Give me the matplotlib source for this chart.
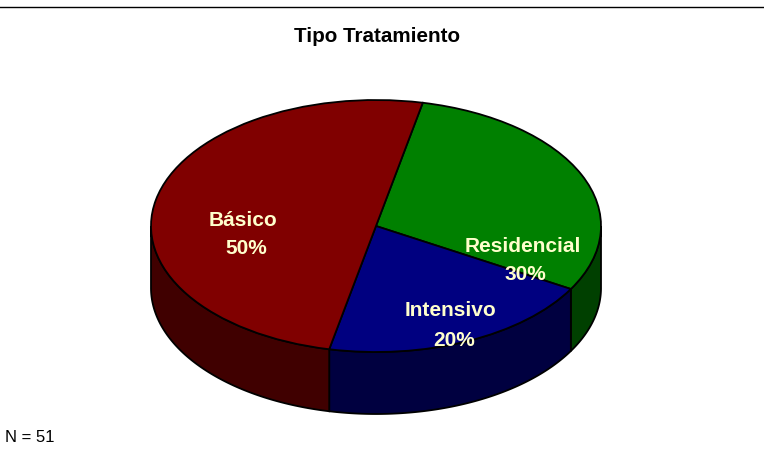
import numpy as np
import matplotlib
matplotlib.use("Agg")
import matplotlib.pyplot as plt
from matplotlib.patches import Polygon

plt.rcParams['font.family'] = ['Liberation Sans', 'DejaVu Sans']

categories = ["Residencial", "Intensivo", "Básico"]
shares = [30, 20, 50]
N = 51
title = "Tipo Tratamiento"

# colours for top faces and the darker side walls
topColors = ["#008000", "#000080", "#800000"]
sideColors = ["#004000", "#000040", "#400000"]
textColor = "#FFFFCC"

# pie geometry, in pixels of the 764x449 picture
W, H = 764, 449
cx, cy, rx, ry = 376, 226, 225, 126
depth = 62
startAngle = 78.0


def px(x, y):
    # picture pixels -> data units of the unit pie
    return (x - cx) / rx, (cy - y) / ry


def DrawSides(ax, angles):
    d = depth / ry
    for i in range(len(shares)):
        # angles run clockwise, only the front half (180-360) shows a wall
        hi = angles[i] % 360
        lo = hi - (angles[i] - angles[i + 1])
        t = np.linspace(lo, hi, 200)
        t = t[np.sin(np.radians(t)) <= 1e-9]
        if len(t) == 0:
            continue
        x = np.cos(np.radians(t))
        y = np.sin(np.radians(t))
        verts = np.vstack([np.column_stack([x, y]),
                           np.column_stack([x[::-1], y[::-1] - d])])
        ax.add_patch(Polygon(verts, closed=True, facecolor=sideColors[i],
                             edgecolor="k", lw=1.3, zorder=1))


def run():
    fig = plt.figure(figsize=(W / 100, H / 100), dpi=100)
    ax = fig.add_axes([0, 0, 1, 1])
    fracs = np.array(shares) / np.sum(shares)
    angles = startAngle - 360 * np.concatenate([[0], np.cumsum(fracs)])
    DrawSides(ax, angles)
    wedges, _ = ax.pie(shares, colors=topColors, startangle=startAngle,
                       counterclock=False, radius=1,
                       wedgeprops=dict(edgecolor="k", lw=1.3, zorder=2))
    # the pie is squashed by hand so it looks tilted
    ax.set_aspect("auto")
    ax.set_xlim(*[px(v, 0)[0] for v in (0, W)])
    ax.set_ylim(*[px(0, v)[1] for v in (H, 0)])
    ax.axis("off")
    # labels, one line each
    labelPos = {"Básico": ((243, 220), (246, 248)),
                "Residencial": ((523, 246), (525, 275)),
                "Intensivo": ((451, 311), (454, 340))}
    for name, share in zip(categories, shares):
        pName, pShare = labelPos[name]
        ax.text(*px(*pName), name, color=textColor, fontsize=15,
                fontweight="bold", ha="center", va="center", zorder=5)
        ax.text(*px(*pShare), "{:d}%".format(share), color=textColor,
                fontsize=15, fontweight="bold", ha="center", va="center",
                zorder=5)
    ax.text(*px(377, 36), title, color="k", fontsize=14.9, fontweight="bold",
            ha="center", va="center")
    ax.text(*px(5, 438), "N = {:d}".format(N), color="k", fontsize=12,
            ha="left", va="center")
    # rule across the top
    fig.add_artist(plt.Line2D([0, 1], [1 - 6.5 / H, 1 - 6.5 / H], color="k",
                              lw=1.0))
    fig.savefig("out.png", dpi=100)


if __name__ == "__main__":
    run()
